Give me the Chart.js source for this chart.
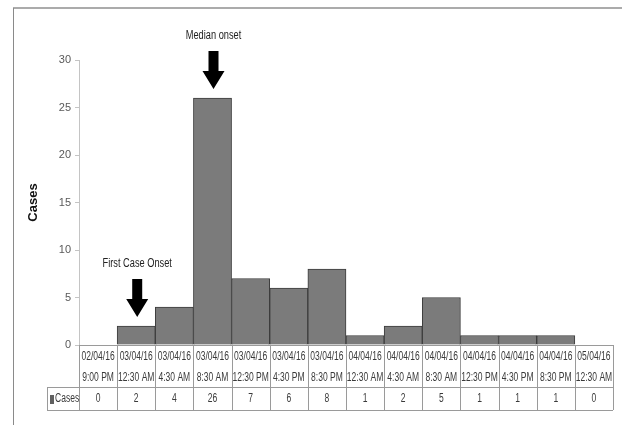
<!DOCTYPE html>
<html>
<head>
<meta charset="utf-8">
<script src="https://cdn.jsdelivr.net/npm/chart.js@4/dist/chart.umd.min.js"></script>
<style>
  html, body { margin: 0; padding: 0; background: #fff; }
  #c { display: block; }
</style>
</head>
<body>
<canvas id="c" width="622" height="425"></canvas>
<script>
const dateLabels = ['02/04/16','03/04/16','03/04/16','03/04/16','03/04/16','03/04/16','03/04/16','04/04/16','04/04/16','04/04/16','04/04/16','04/04/16','04/04/16','05/04/16'];
const timeLabels = ['9:00 PM','12:30 AM','4:30 AM','8:30 AM','12:30 PM','4:30 PM','8:30 PM','12:30 AM','4:30 AM','8:30 AM','12:30 PM','4:30 PM','8:30 PM','12:30 AM'];
const cases = [0, 2, 4, 26, 7, 6, 8, 1, 2, 5, 1, 1, 1, 0];
const seriesName = 'Cases';
const yTicks = [0, 5, 10, 15, 20, 25, 30];
const notes = [
  { text: 'Median onset', index: 3 },
  { text: 'First Case Onset', index: 1 }
];

const SANS = '"Liberation Sans", Arial, sans-serif';

function narrowText(ctx, text, x, y, align, sx) {
  ctx.save();
  ctx.translate(x, y);
  ctx.scale(sx, 1);
  ctx.textAlign = align;
  ctx.fillText(text, 0, 0);
  ctx.restore();
}

const framePlugin = {
  id: 'frame',
  beforeDraw(chart) {
    const ctx = chart.ctx;
    ctx.save();
    ctx.strokeStyle = '#ababab';
    ctx.lineWidth = 2;
    ctx.beginPath();
    ctx.moveTo(13, 8); ctx.lineTo(622, 8);
    ctx.stroke();
    ctx.strokeStyle = '#8a8a8a';
    ctx.lineWidth = 1;
    ctx.beginPath();
    ctx.moveTo(13.5, 8); ctx.lineTo(13.5, 425);
    ctx.stroke();
    ctx.restore();
  }
};

const tablePlugin = {
  id: 'dataTable',
  afterDraw(chart) {
    const ctx = chart.ctx;
    const x = chart.scales.x;
    const area = chart.chartArea;
    const n = cases.length;
    const half = (x.getPixelForValue(1) - x.getPixelForValue(0)) / 2;
    const bounds = [];
    for (let i = 0; i < n; i++) bounds.push(x.getPixelForValue(i) - half);
    bounds.push(x.getPixelForValue(n - 1) + half);
    const top = area.bottom;
    const midY = top + 42;
    const botY = midY + 23;
    const labelLeft = 47;
    ctx.save();
    ctx.strokeStyle = '#9a9a9a';
    ctx.lineWidth = 1;
    ctx.beginPath();
    ctx.moveTo(bounds[0], top + 0.5); ctx.lineTo(bounds[n], top + 0.5);
    ctx.moveTo(labelLeft, midY + 0.5); ctx.lineTo(bounds[n], midY + 0.5);
    ctx.moveTo(labelLeft, botY + 0.5); ctx.lineTo(bounds[n], botY + 0.5);
    ctx.moveTo(labelLeft + 0.5, midY); ctx.lineTo(labelLeft + 0.5, botY);
    for (let i = 0; i <= n; i++) {
      const bx = Math.round(bounds[i]) + 0.5;
      ctx.moveTo(bx, top); ctx.lineTo(bx, botY);
    }
    ctx.stroke();

    ctx.fillStyle = '#3a3a3a';
    ctx.textBaseline = 'middle';
    ctx.font = '12px ' + SANS;
    for (let i = 0; i < n; i++) {
      const cx = x.getPixelForValue(i);
      narrowText(ctx, dateLabels[i], cx, top + 12, 'center', 0.71);
      narrowText(ctx, timeLabels[i], cx, top + 33, 'center', 0.71);
      narrowText(ctx, String(cases[i]), cx, midY + 12, 'center', 0.71);
    }
    ctx.fillStyle = '#606060';
    ctx.fillRect(labelLeft + 3, midY + 8, 4, 9);
    ctx.fillStyle = '#3a3a3a';
    narrowText(ctx, seriesName, labelLeft + 8, midY + 12, 'left', 0.71);
    ctx.restore();
  }
};

const notePlugin = {
  id: 'notes',
  afterDatasetsDraw(chart) {
    const ctx = chart.ctx;
    const x = chart.scales.x, y = chart.scales.y;
    ctx.save();
    notes.forEach(nt => {
      const cx = x.getPixelForValue(nt.index) + 1;
      const tip = y.getPixelForValue(cases[nt.index]) - 9;
      const headStart = tip - 18;
      const shaftTop = headStart - 20;
      ctx.fillStyle = '#000';
      ctx.beginPath();
      ctx.moveTo(cx - 5, shaftTop);
      ctx.lineTo(cx + 5, shaftTop);
      ctx.lineTo(cx + 5, headStart);
      ctx.lineTo(cx + 11, headStart);
      ctx.lineTo(cx, tip);
      ctx.lineTo(cx - 11, headStart);
      ctx.lineTo(cx - 5, headStart);
      ctx.closePath();
      ctx.fill();
      ctx.fillStyle = '#222';
      ctx.font = '12.5px ' + SANS;
      ctx.textBaseline = 'middle';
      narrowText(ctx, nt.text, cx, shaftTop - 15, 'center', 0.74);
    });
    ctx.restore();
  }
};

new Chart(document.getElementById('c'), {
  type: 'bar',
  data: {
    labels: dateLabels.map((d, i) => [d, timeLabels[i]]),
    datasets: [{
      label: seriesName,
      data: cases,
      backgroundColor: '#7b7b7b',
      borderColor: '#3c3c3c',
      borderWidth: 1,
      categoryPercentage: 1,
      barPercentage: 1
    }]
  },
  options: {
    responsive: false,
    animation: false,
    devicePixelRatio: 1,
    layout: { padding: { top: 60, left: 0, right: 9, bottom: 80 } },
    plugins: { legend: { display: false }, tooltip: { enabled: false } },
    scales: {
      x: { display: false },
      y: {
        min: 0, max: 30,
        afterBuildTicks: s => { s.ticks = yTicks.map(v => ({ value: v })); },
        afterFit: s => { s.width = 79; },
        grid: { drawOnChartArea: false, drawTicks: true, tickLength: 4, color: '#c4c4c4' },
        border: { display: true, color: '#c4c4c4' },
        ticks: { color: '#595959', font: { family: SANS, size: 11 }, padding: 4 },
        title: {
          display: true, text: 'Cases', color: '#111',
          font: { family: SANS, size: 13, weight: 'bold' },
          padding: { top: 26, bottom: 0 }
        }
      }
    }
  },
  plugins: [framePlugin, tablePlugin, notePlugin]
});
</script>
</body>
</html>
